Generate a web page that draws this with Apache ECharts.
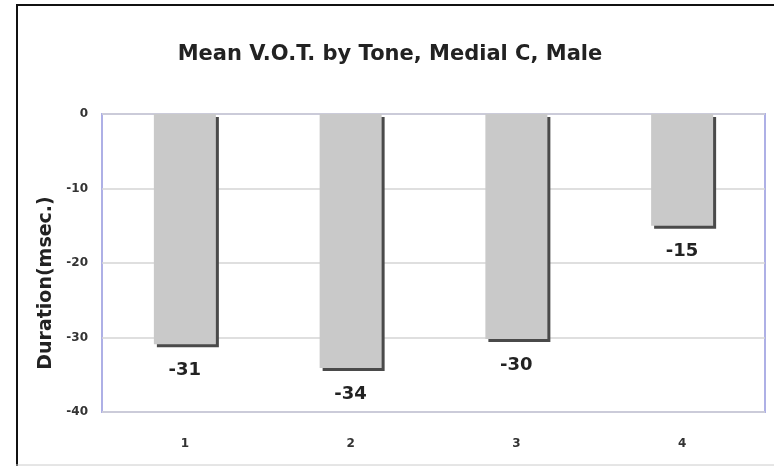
<!DOCTYPE html>
<html>
<head>
<meta charset="utf-8">
<script src="https://cdn.jsdelivr.net/npm/echarts@6/dist/echarts.min.js"></script>
<style>
html,body{margin:0;padding:0;background:#fff;}
#chart{width:774px;height:466px;}
</style>
</head>
<body>
<div id="chart"></div>
<script>
var categories = ['1', '2', '3', '4'];
var values = [-30.9, -34.1, -30.2, -15.0];
var yTicks = [-40, -30, -20, -10, 0];
var titleText = 'Mean V.O.T. by Tone, Medial C, Male';
var yAxisName = 'Duration(msec.)';

var font = 'DejaVu Sans';
var chart = echarts.init(document.getElementById('chart'), null, {renderer: 'canvas'});
chart.setOption({
  animation: false,
  backgroundColor: '#ffffff',
  title: {
    text: titleText,
    left: 385,
    textAlign: 'center',
    top: 39,
    textStyle: {fontFamily: font, fontWeight: 'bold', fontSize: 21, color: '#222'}
  },
  grid: {
    left: 102, top: 114, right: 9, bottom: 54,
    show: true, borderColor: '#aeb0e6', borderWidth: 2, backgroundColor: 'transparent'
  },
  xAxis: {
    type: 'category',
    data: categories,
    axisLine: {show: false},
    axisTick: {show: false},
    axisLabel: {margin: 26, fontFamily: font, fontWeight: 'bold', fontSize: 12, color: '#333'}
  },
  yAxis: {
    type: 'value',
    min: yTicks[0], max: yTicks[yTicks.length - 1], interval: 10,
    axisLine: {show: false},
    axisTick: {show: false},
    splitLine: {show: true, lineStyle: {color: '#d4d4d4', width: 1.5}},
    axisLabel: {margin: 14, fontFamily: font, fontWeight: 'bold', fontSize: 12, color: '#333'}
  },
  graphic: [
    {type: 'line', shape: {x1: 17, y1: 4, x2: 17, y2: 466}, style: {stroke: '#111', lineWidth: 2}},
    {type: 'line', shape: {x1: 16, y1: 5, x2: 774, y2: 5}, style: {stroke: '#111', lineWidth: 2}},
    {type: 'line', shape: {x1: 16, y1: 465, x2: 774, y2: 465}, style: {stroke: '#cccccc', lineWidth: 1}},
    {type: 'text', x: 46, y: 283, rotation: Math.PI / 2,
      style: {text: yAxisName, fontFamily: font, fontWeight: 'bold', fontSize: 19, fill: '#222',
        textAlign: 'center', textVerticalAlign: 'middle'}}
  ],
  series: [{
    type: 'bar',
    data: values,
    barWidth: 62,
    itemStyle: {color: '#c9c9c9', shadowColor: '#4a4a4a', shadowBlur: 0, shadowOffsetX: 3, shadowOffsetY: 3},
    label: {
      show: true, position: 'bottom', distance: 17,
      fontFamily: font, fontWeight: 'bold', fontSize: 18, color: '#222',
      formatter: function (p) { return Math.round(p.value); }
    }
  }]
});
</script>
</body>
</html>
